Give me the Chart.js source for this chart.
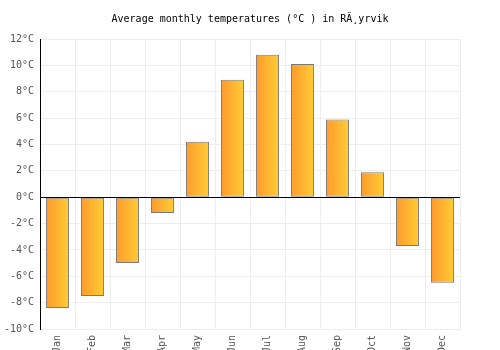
<!DOCTYPE html>
<html>
<head>
<meta charset="utf-8">
<script src="https://cdn.jsdelivr.net/npm/chart.js@4/dist/chart.umd.min.js"></script>
<style>
html,body{margin:0;padding:0;background:#fff;overflow:hidden;width:500px;height:350px;}
#wrap{width:500px;height:363px;position:relative;}
</style>
</head>
<body>
<div id="wrap"><canvas id="c"></canvas></div>
<script>
const months = ["Jan","Feb","Mar","Apr","May","Jun","Jul","Aug","Sep","Oct","Nov","Dec"];
const temps = [-8.4,-7.5,-5.0,-1.2,4.2,8.9,10.8,10.1,5.9,1.9,-3.7,-6.5];
const yMin = -10, yMax = 12, yStep = 2;
const titleText = "Average monthly temperatures (°C ) in RÃ¸yrvik";
const BAR_PCT = 0.66;

const zeroLine = {
  id:'zeroLine',
  afterDatasetsDraw(chart){
    const {ctx, chartArea, scales} = chart;
    const y = Math.round(scales.y.getPixelForValue(0)) + 0.5;
    ctx.save();
    ctx.strokeStyle = '#000';
    ctx.lineWidth = 1;
    ctx.beginPath();
    ctx.moveTo(chartArea.left, y);
    ctx.lineTo(chartArea.right, y);
    ctx.stroke();
    ctx.restore();
  }
};

new Chart(document.getElementById('c'), {
  type:'bar',
  data:{
    labels: months,
    datasets:[{
      data: temps,
      yAxisID:'y',
      backgroundColor(ctx){
        const chart = ctx.chart;
        const xs = chart.scales.x;
        const area = chart.chartArea;
        if(!xs || !area) return '#ffb030';
        const cx = xs.getPixelForValue(ctx.dataIndex);
        const w = (area.right - area.left) / months.length * BAR_PCT;
        const g = chart.ctx.createLinearGradient(cx - w/2, 0, cx + w/2, 0);
        g.addColorStop(0, '#ff9a2e');
        g.addColorStop(1, '#ffcd34');
        return g;
      },
      borderColor:'#7a7a7a',
      borderWidth:1,
      borderSkipped:false,
      barPercentage: BAR_PCT,
      categoryPercentage: 1
    }]
  },
  options:{
    responsive:true,
    maintainAspectRatio:false,
    animation:false,
    layout:{padding:{left:0,right:0,top:0,bottom:0}},
    plugins:{
      legend:{display:false},
      tooltip:{enabled:false},
      title:{
        display:true,
        text:titleText,
        color:'#000',
        font:{family:'"DejaVu Sans Mono", monospace', size:10, weight:'normal'},
        padding:{top:13,bottom:14}
      }
    },
    scales:{
      x:{
        grid:{color:'#eeeeee', drawTicks:false, offset:true},
        border:{color:'#eeeeee'},
        ticks:{
          color:'#555',
          font:{family:'"DejaVu Sans Mono", monospace', size:10},
          minRotation:90, maxRotation:90, padding:6, autoSkip:false
        },
        afterFit(s){ s.height = 34; }
      },
      y:{
        min:yMin, max:yMax,
        grid:{color:'#eeeeee', drawTicks:false},
        border:{color:'#000', width:1},
        ticks:{
          stepSize:yStep,
          color:'#555',
          font:{family:'"DejaVu Sans Mono", monospace', size:10},
          padding:6,
          callback(v){ return v + '°C'; }
        },
        afterFit(s){ s.width = 40; }
      },
      yR:{
        position:'right',
        min:yMin, max:yMax,
        grid:{display:false, drawTicks:false},
        border:{display:false},
        ticks:{display:false},
        afterFit(s){ s.width = 40; }
      }
    }
  },
  plugins:[zeroLine]
});
</script>
</body>
</html>
